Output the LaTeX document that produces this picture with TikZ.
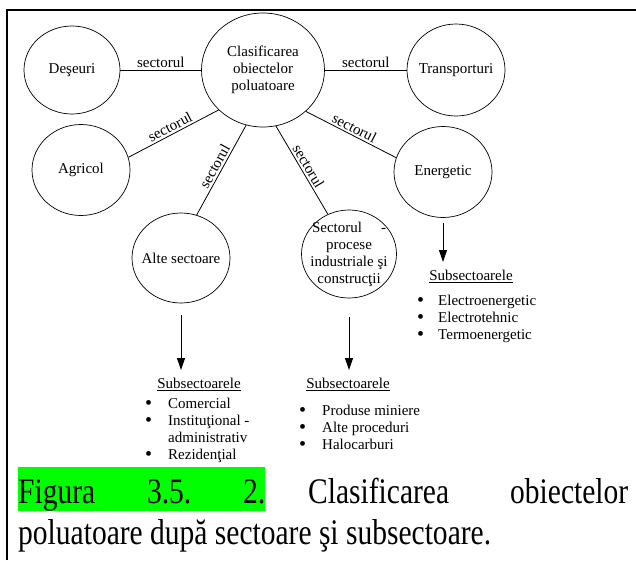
\documentclass[tikz,border=0pt]{standalone}
\usepackage{fontspec}
\setmainfont{Liberation Serif}
\newfontfamily\captionfont[FakeStretch=0.82]{Liberation Serif}
\usetikzlibrary{arrows.meta, shapes.geometric}
\definecolor{hilite}{RGB}{0,255,0}
\newcommand{\itemdot}{\raisebox{-1.8pt}{\fontsize{20}{17}\selectfont\textbullet}}

\begin{document}
\begin{tikzpicture}[x=1pt, y=-1pt,
    sector/.style = {ellipse, draw, line width=0.7pt,
        minimum width=98pt, minimum height=91pt,
        inner sep=-12pt, align=center,
        font=\fontsize{15}{17}\selectfont},
    link/.style = {line width=0.8pt},
    lbl/.style = {sloped, above, inner sep=2pt, font=\fontsize{15}{17}\selectfont},
    arrow/.style = {line width=0.9pt, shorten >=6pt, -{Triangle[length=12pt, width=8pt]}},
    subtitle/.style = {anchor=north, inner sep=2pt, font=\fontsize{15}{17}\selectfont},
    items/.style = {anchor=base west, inner sep=0pt, font=\fontsize{15}{17}\selectfont},
    caption/.style = {anchor=base west, inner sep=0pt,
        font=\captionfont\fontsize{36}{41}\selectfont\frenchspacing}]
    % \draw [help lines, step=20] (0,0) grid (636,560);
    \useasboundingbox (0,0) rectangle (636,560);
    \draw [line width=2pt] (7,560) -- (7,10) -- (636,10);

    \node (clasif) [sector, minimum width=123pt, minimum height=114pt] at (263,70)
        {Clasificarea\\obiectelor\\poluatoare};
    \node (deseuri) [sector, minimum width=96pt, minimum height=88pt] at (72,70) {Deşeuri};
    \node (transp) [sector, minimum height=92pt] at (456,70) {Transporturi};
    \node (agricol) [sector] at (81,170) {Agricol};
    \node (energetic) [sector] at (443,172) {Energetic};
    \node (alte) [sector, minimum height=90pt] at (181,258) {Alte sectoare};
    \node (industrie) [sector, minimum width=95pt, minimum height=88pt] at (349,254)
        {\makebox[74pt]{Sectorul\hfill-}\\procese\\industriale şi\\construcţii};

    \path [link]
        (deseuri) edge node [lbl] {sectorul} (clasif)
        (clasif) edge node [lbl] {sectorul} (transp)
        (agricol.15) edge node [lbl] {sectorul} (clasif.222)
        (alte.70) edge node [lbl] {sectorul} (clasif.253)
        (clasif.283) edge node [lbl] {sectorul} (industrie.118)
        (clasif.316) edge node [lbl] {sectorul} (energetic.163);

    \node (subAlte) [subtitle] at (199,376) {\underline{Subsectoarele}};
    \node (subInd) [subtitle] at (348,376) {\underline{Subsectoarele}};
    \node (subEn) [subtitle] at (471,268) {\underline{Subsectoarele}};

    \draw [arrow] ([yshift=-12pt]alte.south) -- (alte.south |- subAlte.north);
    \draw [arrow] ([yshift=-19pt]industrie.south) -- (industrie.south |- subInd.north);
    \draw [arrow] ([yshift=-5pt]energetic.south) -- (energetic.south |- subEn.north);

    \node (listAlte) [items] at (145,408)
        {\begin{tabular}[t]{@{}l@{\hspace{16pt}}l@{}}
            \itemdot & Comercial\\
            \itemdot & Instituţional -\\
                     & administrativ\\
            \itemdot & Rezidenţial
        \end{tabular}};
    \node (listInd) [items] at (299,415)
        {\begin{tabular}[t]{@{}l@{\hspace{16pt}}l@{}}
            \itemdot & Produse miniere\\
            \itemdot & Alte proceduri\\
            \itemdot & Halocarburi
        \end{tabular}};
    \node (listEn) [items] at (417,305)
        {\begin{tabular}[t]{@{}l@{\hspace{14pt}}l@{}}
            \itemdot & Electroenergetic\\
            \itemdot & Electrotehnic\\
            \itemdot & Termoenergetic
        \end{tabular}};

    \node (figlabel) [caption, fill=hilite, text height=36pt, text depth=8pt] at (18,503)
        {\makebox[247pt][s]{Figura 3.5. 2.}};
    \node (figtitle) [caption] at (308,503) {\makebox[320pt][s]{Clasificarea obiectelor}};
    \node (figtext) [caption] at (18,544) {poluatoare după sectoare şi subsectoare.};
\end{tikzpicture}
\end{document}
